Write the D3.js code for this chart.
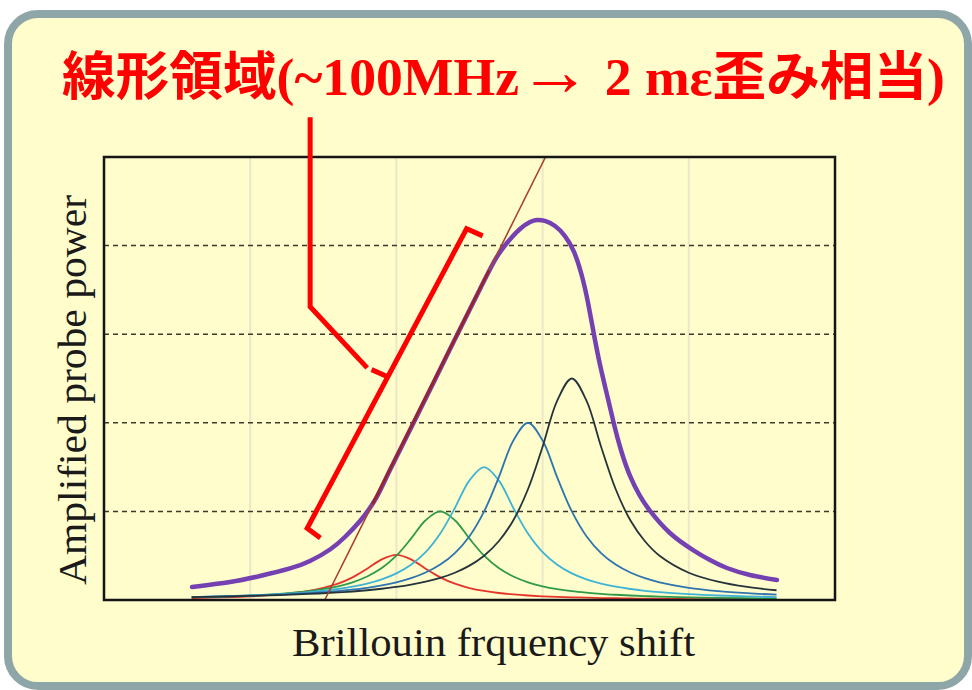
<!DOCTYPE html>
<html><head><meta charset="utf-8">
<script src="https://cdn.jsdelivr.net/npm/d3@7"></script>
<style>html,body{margin:0;padding:0;background:#fff;}svg{display:block;}</style>
</head><body>
<script>
// ---------- data ----------
const titleParts = ["線形領域", "(~100MHz", "→", " 2 mε", "歪み相当", ")"];
const xLabel = "Brillouin frquency shift";
const yLabel = "Amplified probe power";
const gridX = [1, 2, 3, 4];           // light vertical grid
const gridY = [1, 2, 3, 4];           // dashed horizontal lines

// shared sample positions for the five thin spectra
const sx = [0.6,0.8,1.0,1.2,1.4,1.6,1.7,1.8,1.9,2.0,2.1,2.2,2.3,2.4,2.5,2.6,2.7,2.8,2.9,3.0,3.1,3.2,3.3,3.4,3.5,3.6,3.7,3.8,4.0,4.2,4.4,4.6];
const redY   = [0.022,0.030,0.042,0.063,0.102,0.184,0.255,0.353,0.459,0.510,0.459,0.353,0.255,0.184,0.135,0.102,0.079,0.063,0.051,0.042,0.035,0.030,0.026,0.022,0.020,0.017,0.015,0.014,0.011,0.009,0.008,0.007];
const greenY = [0.030,0.039,0.051,0.069,0.100,0.155,0.200,0.265,0.360,0.500,0.692,0.900,1.000,0.900,0.692,0.500,0.360,0.265,0.200,0.155,0.123,0.100,0.083,0.069,0.059,0.051,0.044,0.039,0.030,0.024,0.020,0.017];
const cyanY  = [0.033,0.041,0.051,0.066,0.088,0.124,0.150,0.185,0.233,0.300,0.398,0.540,0.750,1.038,1.350,1.500,1.350,1.038,0.750,0.540,0.398,0.300,0.233,0.185,0.150,0.124,0.104,0.088,0.066,0.051,0.041,0.033];
const blueY  = [0.033,0.040,0.049,0.060,0.077,0.101,0.118,0.138,0.165,0.200,0.246,0.310,0.400,0.530,0.720,1.000,1.384,1.800,2.000,1.800,1.384,1.000,0.720,0.530,0.400,0.310,0.246,0.200,0.138,0.101,0.077,0.060];
const darkY  = [0.033,0.038,0.046,0.055,0.068,0.085,0.096,0.110,0.127,0.147,0.173,0.207,0.250,0.308,0.388,0.500,0.663,0.900,1.250,1.730,2.250,2.500,2.250,1.730,1.250,0.900,0.663,0.500,0.308,0.207,0.147,0.110];

// thick total gain curve
const purpleX = [0.602,0.862,1.067,1.272,1.409,1.546,1.648,1.751,1.854,1.956,2.161,2.367,2.572,2.674,2.756,2.845,2.914,2.962,3.016,3.085,3.153,3.215,3.269,3.311,3.352,3.393,3.441,3.488,3.536,3.598,3.666,3.735,3.871,4.029,4.145,4.261,4.419,4.603];
const purpleY = [0.147,0.203,0.271,0.356,0.440,0.570,0.711,0.892,1.129,1.467,2.144,2.833,3.510,3.837,4.029,4.187,4.266,4.289,4.278,4.221,4.108,3.928,3.657,3.352,2.991,2.652,2.314,1.986,1.693,1.400,1.174,1.005,0.756,0.564,0.451,0.361,0.282,0.226];

// tangent (linear region) line and the part where it runs along the thick curve
const tangentX = [1.51, 3.02];
const tangentY = [0, 5];
const overlapX = [1.84, 2.63];

// red annotation (data units)
const leaderX = [1.41, 1.41, 1.80];
const leaderY = [5.45, 3.31, 2.62];
const tickX = [1.83, 1.94];
const tickY = [2.60, 2.52];
const bracketX = [2.59, 2.48, 1.39, 1.48];
const bracketY = [4.11, 4.19, 0.81, 0.70];

// ---------- drawing ----------
const W = 972, H = 690;
const svg = d3.select("body").append("svg").attr("width", W).attr("height", H);

svg.append("rect").attr("x", 8).attr("y", 14).attr("width", 960).attr("height", 672)
  .attr("rx", 30).attr("ry", 30)
  .attr("fill", "#fffdcc").attr("stroke", "#8fa6a9").attr("stroke-width", 8);

const x = d3.scaleLinear().domain([0, 5]).range([104, 835]);
const y = d3.scaleLinear().domain([0, 5]).range([600, 157]);

const g = svg.append("g");

// vertical light grid
g.selectAll("line.vg").data(gridX).join("line").attr("class", "vg")
  .attr("x1", d => x(d)).attr("x2", d => x(d)).attr("y1", y(0)).attr("y2", y(5))
  .attr("stroke", "#ece8c6").attr("stroke-width", 2);

// dashed horizontal lines
g.selectAll("line.hg").data(gridY).join("line").attr("class", "hg")
  .attr("x1", x(0)).attr("x2", x(5)).attr("y1", d => y(d)).attr("y2", d => y(d))
  .attr("stroke", "#3a3a2a").attr("stroke-width", 1.5).attr("stroke-dasharray", "5,4");

const lineGen = d3.line().x(d => x(d[0])).y(d => y(d[1])).curve(d3.curveCatmullRom.alpha(0.5));
const smoothGen = d3.line().x(d => x(d[0])).y(d => y(d[1])).curve(d3.curveNatural);
const straight = d3.line().x(d => x(d[0])).y(d => y(d[1]));

const thin = [
  {ys: redY,   c: "#e5352a"},
  {ys: greenY, c: "#2f9a4a"},
  {ys: cyanY,  c: "#3fb3d6"},
  {ys: blueY,  c: "#2e74b0"},
  {ys: darkY,  c: "#25343c"}
];
thin.forEach(s => {
  g.append("path").datum(sx.map((v, i) => [v, s.ys[i]]))
    .attr("d", lineGen).attr("fill", "none").attr("stroke", s.c).attr("stroke-width", 1.8);
});

g.append("path").datum(purpleX.map((v, i) => [v, purpleY[i]]))
  .attr("d", smoothGen).attr("fill", "none").attr("stroke", "#7440b2").attr("stroke-width", 4.5)
  .attr("stroke-linecap", "round");

const tangentAt = d3.scaleLinear().domain(tangentX).range(tangentY);
g.append("path").datum(tangentX.map((v, i) => [v, tangentY[i]]))
  .attr("d", straight).attr("fill", "none").attr("stroke", "#a8402e").attr("stroke-width", 1.6);
g.append("path").datum(overlapX.map(v => [v, tangentAt(v)]))
  .attr("d", straight).attr("fill", "none").attr("stroke", "#9a2424").attr("stroke-width", 2.6)
  .attr("stroke-linecap", "round");

// frame
g.append("rect").attr("x", x(0)).attr("y", y(5)).attr("width", x(5) - x(0)).attr("height", y(0) - y(5))
  .attr("fill", "none").attr("stroke", "#151515").attr("stroke-width", 2.5);

// red annotation
[[leaderX, leaderY], [tickX, tickY], [bracketX, bracketY]].forEach(([xs, ys]) => {
  svg.append("path").datum(xs.map((v, i) => [v, ys[i]])).attr("d", straight)
    .attr("fill", "none").attr("stroke", "#ff0000").attr("stroke-width", 5)
    .attr("stroke-linejoin", "miter");
});

// title
const title = svg.append("text").attr("x", 62).attr("y", 95)
  .attr("textLength", 883).attr("lengthAdjust", "spacingAndGlyphs")
  .attr("font-family", "'Liberation Serif', 'Noto Sans CJK JP', serif")
  .attr("font-weight", "bold").attr("font-size", 52).attr("fill", "#ff0000");
titleParts.forEach(t => {
  const ts = title.append("tspan").text(t);
  if (t === "→") ts.attr("font-size", 70).attr("font-weight", "normal");
});

// axis labels
svg.append("text").attr("x", 292).attr("y", 656)
  .attr("textLength", 403).attr("lengthAdjust", "spacingAndGlyphs")
  .attr("font-family", "'Liberation Serif', serif").attr("font-size", 40).attr("fill", "#1a1a1a")
  .text(xLabel);

svg.append("text").attr("transform", "translate(86,585) rotate(-90)")
  .attr("textLength", 390).attr("lengthAdjust", "spacingAndGlyphs")
  .attr("font-family", "'Liberation Serif', serif").attr("font-size", 39).attr("fill", "#1a1a1a")
  .text(yLabel);
</script>
</body></html>
